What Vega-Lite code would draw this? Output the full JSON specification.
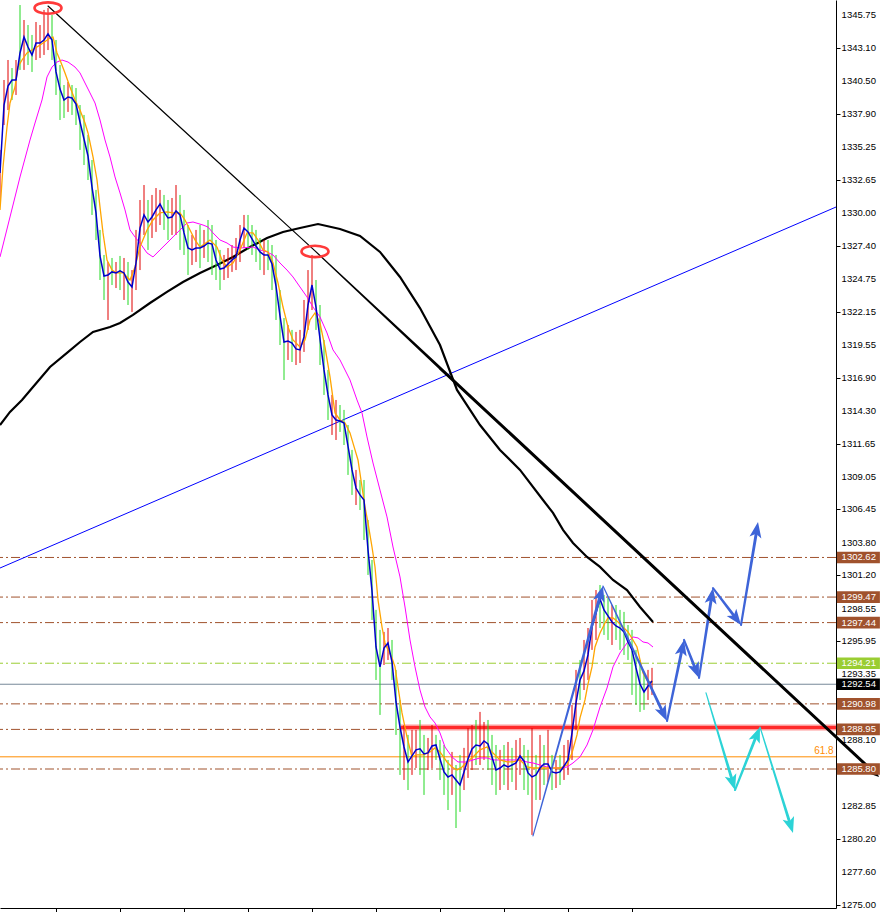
{
"$schema":"https://vega.github.io/schema/vega-lite/v6.json",
"width":836,"height":908,"autosize":{"type":"none"},
"padding":{"left":0,"top":0,"right":44,"bottom":4},
"background":"#ffffff",
"config":{"view":{"stroke":null},"axis":{"grid":false,"domainColor":"#000000","tickColor":"#000000","labelColor":"#000000","labelFont":"Liberation Sans","labelFontSize":9.5,"labelOverlap":false}},
"datasets":{
"ticks":[{"v":1345.75},{"v":1343.10},{"v":1340.50},{"v":1337.90},{"v":1335.25},{"v":1332.65},{"v":1330.00},{"v":1327.40},{"v":1324.75},{"v":1322.15},{"v":1319.55},{"v":1316.90},{"v":1314.30},{"v":1311.65},{"v":1309.05},{"v":1306.45},{"v":1303.80},{"v":1301.20},{"v":1298.55},{"v":1295.95},{"v":1293.35},{"v":1288.10},{"v":1282.85},{"v":1280.20},{"v":1277.60},{"v":1275.00}],
"levels":[{"p":1302.62,"s":"b"},{"p":1299.47,"s":"b"},{"p":1297.44,"s":"b"},{"p":1294.21,"s":"y"},{"p":1292.54,"s":"g"},{"p":1290.98,"s":"b"},{"p":1288.95,"s":"b"},{"p":1286.77,"s":"o"},{"p":1285.80,"s":"b"}],
"boxes":[{"p":1302.62,"s":"b"},{"p":1299.47,"s":"b"},{"p":1297.44,"s":"b"},{"p":1294.21,"s":"y"},{"p":1292.54,"s":"k"},{"p":1290.98,"s":"b"},{"p":1288.95,"s":"b"},{"p":1285.80,"s":"b"}],
"bars":[
{"t":0,"c":1333.19,"h":1335.02,"l":1331.04,"k":"r"},
{"t":1,"c":1338.59,"h":1340.58,"l":1337.00,"k":"r"},
{"t":2,"c":1340.10,"h":1342.17,"l":1338.19,"k":"r"},
{"t":3,"c":1340.58,"h":1341.53,"l":1338.99,"k":"g"},
{"t":4,"c":1340.58,"h":1342.17,"l":1339.39,"k":"r"},
{"t":5,"c":1342.73,"h":1346.54,"l":1341.38,"k":"g"},
{"t":6,"c":1344.00,"h":1345.35,"l":1341.38,"k":"r"},
{"t":7,"c":1343.20,"h":1344.95,"l":1341.77,"k":"g"},
{"t":8,"c":1342.57,"h":1344.16,"l":1341.22,"k":"g"},
{"t":9,"c":1343.52,"h":1345.19,"l":1342.17,"k":"r"},
{"t":10,"c":1343.52,"h":1344.95,"l":1342.33,"k":"r"},
{"t":11,"c":1343.76,"h":1346.15,"l":1342.57,"k":"r"},
{"t":12,"c":1344.24,"h":1346.30,"l":1342.96,"k":"r"},
{"t":13,"c":1343.76,"h":1345.75,"l":1342.17,"k":"g"},
{"t":14,"c":1341.22,"h":1343.76,"l":1339.39,"k":"g"},
{"t":15,"c":1339.86,"h":1341.77,"l":1337.40,"k":"g"},
{"t":16,"c":1338.99,"h":1340.18,"l":1337.56,"k":"g"},
{"t":17,"c":1339.23,"h":1340.42,"l":1338.04,"k":"r"},
{"t":18,"c":1339.15,"h":1340.18,"l":1337.80,"k":"g"},
{"t":19,"c":1338.67,"h":1339.94,"l":1337.00,"k":"g"},
{"t":20,"c":1337.24,"h":1338.59,"l":1335.02,"k":"g"},
{"t":21,"c":1335.89,"h":1337.80,"l":1333.82,"k":"g"},
{"t":22,"c":1334.54,"h":1336.21,"l":1332.63,"k":"g"},
{"t":23,"c":1332.07,"h":1334.22,"l":1329.85,"k":"g"},
{"t":24,"c":1330.01,"h":1331.84,"l":1327.86,"k":"g"},
{"t":25,"c":1326.59,"h":1328.66,"l":1324.68,"k":"g"},
{"t":26,"c":1325.00,"h":1326.67,"l":1323.09,"k":"g"},
{"t":27,"c":1325.08,"h":1326.11,"l":1321.50,"k":"r"},
{"t":28,"c":1325.32,"h":1326.43,"l":1324.28,"k":"g"},
{"t":29,"c":1325.24,"h":1326.11,"l":1324.04,"k":"r"},
{"t":30,"c":1325.40,"h":1326.59,"l":1323.88,"k":"g"},
{"t":31,"c":1325.24,"h":1326.43,"l":1323.09,"k":"r"},
{"t":32,"c":1324.52,"h":1326.11,"l":1322.69,"k":"g"},
{"t":33,"c":1324.12,"h":1325.47,"l":1322.14,"k":"r"},
{"t":34,"c":1326.03,"h":1328.66,"l":1323.88,"k":"r"},
{"t":35,"c":1328.81,"h":1331.04,"l":1325.47,"k":"r"},
{"t":36,"c":1329.85,"h":1332.23,"l":1328.26,"k":"r"},
{"t":37,"c":1329.29,"h":1331.04,"l":1327.07,"k":"g"},
{"t":38,"c":1329.69,"h":1331.44,"l":1328.02,"k":"r"},
{"t":39,"c":1330.25,"h":1331.99,"l":1328.50,"k":"r"},
{"t":40,"c":1330.72,"h":1331.84,"l":1329.05,"k":"r"},
{"t":41,"c":1330.09,"h":1331.44,"l":1328.66,"k":"g"},
{"t":42,"c":1329.61,"h":1331.04,"l":1327.86,"k":"g"},
{"t":43,"c":1329.69,"h":1331.20,"l":1328.26,"k":"r"},
{"t":44,"c":1330.17,"h":1332.23,"l":1328.26,"k":"r"},
{"t":45,"c":1329.85,"h":1331.44,"l":1327.07,"k":"g"},
{"t":46,"c":1328.42,"h":1330.25,"l":1326.67,"k":"g"},
{"t":47,"c":1327.22,"h":1329.05,"l":1325.08,"k":"g"},
{"t":48,"c":1327.07,"h":1328.26,"l":1325.87,"k":"r"},
{"t":49,"c":1327.22,"h":1328.66,"l":1326.11,"k":"r"},
{"t":50,"c":1327.22,"h":1329.05,"l":1325.63,"k":"g"},
{"t":51,"c":1327.38,"h":1328.66,"l":1326.43,"k":"r"},
{"t":52,"c":1327.62,"h":1329.45,"l":1326.11,"k":"g"},
{"t":53,"c":1327.54,"h":1329.05,"l":1325.08,"k":"g"},
{"t":54,"c":1326.27,"h":1327.86,"l":1324.68,"k":"g"},
{"t":55,"c":1325.55,"h":1327.07,"l":1323.88,"k":"g"},
{"t":56,"c":1325.63,"h":1326.67,"l":1324.68,"k":"r"},
{"t":57,"c":1325.95,"h":1327.22,"l":1324.84,"k":"r"},
{"t":58,"c":1326.27,"h":1327.46,"l":1325.32,"k":"r"},
{"t":59,"c":1326.51,"h":1328.02,"l":1325.47,"k":"r"},
{"t":60,"c":1327.86,"h":1329.05,"l":1326.11,"k":"r"},
{"t":61,"c":1328.81,"h":1329.85,"l":1327.22,"k":"r"},
{"t":62,"c":1328.50,"h":1329.85,"l":1327.07,"k":"g"},
{"t":63,"c":1327.94,"h":1329.05,"l":1326.67,"k":"g"},
{"t":64,"c":1327.38,"h":1328.66,"l":1326.11,"k":"g"},
{"t":65,"c":1326.91,"h":1328.02,"l":1325.47,"k":"g"},
{"t":66,"c":1326.67,"h":1327.86,"l":1325.08,"k":"r"},
{"t":67,"c":1326.67,"h":1327.86,"l":1325.47,"k":"g"},
{"t":68,"c":1325.95,"h":1327.46,"l":1323.88,"k":"g"},
{"t":69,"c":1324.20,"h":1326.67,"l":1321.50,"k":"g"},
{"t":70,"c":1321.82,"h":1323.88,"l":1319.51,"k":"g"},
{"t":71,"c":1319.75,"h":1321.66,"l":1316.73,"k":"g"},
{"t":72,"c":1319.83,"h":1321.10,"l":1318.32,"k":"r"},
{"t":73,"c":1319.67,"h":1320.71,"l":1318.16,"k":"g"},
{"t":74,"c":1319.20,"h":1320.55,"l":1317.92,"k":"r"},
{"t":75,"c":1319.12,"h":1320.71,"l":1318.08,"k":"r"},
{"t":76,"c":1320.15,"h":1323.09,"l":1318.96,"k":"r"},
{"t":77,"c":1322.69,"h":1325.47,"l":1320.71,"k":"r"},
{"t":78,"c":1324.28,"h":1326.67,"l":1322.29,"k":"r"},
{"t":79,"c":1322.53,"h":1324.68,"l":1320.71,"k":"g"},
{"t":80,"c":1319.99,"h":1322.69,"l":1317.92,"k":"g"},
{"t":81,"c":1317.53,"h":1319.91,"l":1315.54,"k":"g"},
{"t":82,"c":1315.54,"h":1317.53,"l":1313.55,"k":"g"},
{"t":83,"c":1313.95,"h":1315.54,"l":1312.36,"k":"r"},
{"t":84,"c":1313.55,"h":1315.14,"l":1311.96,"k":"r"},
{"t":85,"c":1313.47,"h":1314.74,"l":1312.60,"k":"g"},
{"t":86,"c":1313.31,"h":1314.35,"l":1311.56,"k":"g"},
{"t":87,"c":1311.48,"h":1313.15,"l":1309.18,"k":"g"},
{"t":88,"c":1309.58,"h":1311.17,"l":1307.59,"k":"g"},
{"t":89,"c":1308.14,"h":1309.58,"l":1306.79,"k":"r"},
{"t":90,"c":1307.59,"h":1308.78,"l":1306.39,"k":"g"},
{"t":91,"c":1307.19,"h":1308.78,"l":1304.01,"k":"g"},
{"t":92,"c":1303.22,"h":1305.60,"l":1301.23,"k":"g"},
{"t":93,"c":1299.96,"h":1302.42,"l":1297.65,"k":"g"},
{"t":94,"c":1295.50,"h":1298.45,"l":1292.88,"k":"g"},
{"t":95,"c":1293.92,"h":1296.86,"l":1290.10,"k":"g"},
{"t":96,"c":1295.42,"h":1296.70,"l":1294.07,"k":"r"},
{"t":97,"c":1295.82,"h":1297.01,"l":1294.47,"k":"r"},
{"t":98,"c":1294.31,"h":1296.06,"l":1292.88,"k":"g"},
{"t":99,"c":1291.13,"h":1293.68,"l":1288.51,"k":"g"},
{"t":100,"c":1289.14,"h":1291.29,"l":1285.33,"k":"g"},
{"t":101,"c":1287.55,"h":1289.30,"l":1284.93,"k":"r"},
{"t":102,"c":1286.36,"h":1288.51,"l":1284.13,"k":"g"},
{"t":103,"c":1286.84,"h":1288.91,"l":1285.33,"k":"r"},
{"t":104,"c":1287.32,"h":1288.91,"l":1285.88,"k":"r"},
{"t":105,"c":1287.40,"h":1289.70,"l":1285.33,"k":"g"},
{"t":106,"c":1287.00,"h":1288.51,"l":1283.74,"k":"g"},
{"t":107,"c":1287.08,"h":1288.27,"l":1285.72,"k":"r"},
{"t":108,"c":1287.63,"h":1289.30,"l":1285.88,"k":"r"},
{"t":109,"c":1287.71,"h":1288.51,"l":1286.52,"k":"g"},
{"t":110,"c":1286.60,"h":1288.11,"l":1284.93,"k":"g"},
{"t":111,"c":1285.57,"h":1287.71,"l":1283.74,"k":"g"},
{"t":112,"c":1285.17,"h":1286.52,"l":1282.54,"k":"g"},
{"t":113,"c":1285.33,"h":1287.16,"l":1283.74,"k":"r"},
{"t":114,"c":1284.93,"h":1286.12,"l":1281.11,"k":"g"},
{"t":115,"c":1284.53,"h":1286.92,"l":1282.39,"k":"g"},
{"t":116,"c":1285.57,"h":1287.48,"l":1284.13,"k":"r"},
{"t":117,"c":1286.60,"h":1289.06,"l":1285.09,"k":"r"},
{"t":118,"c":1287.40,"h":1289.30,"l":1285.72,"k":"r"},
{"t":119,"c":1287.71,"h":1289.70,"l":1286.12,"k":"g"},
{"t":120,"c":1287.63,"h":1290.34,"l":1286.12,"k":"r"},
{"t":121,"c":1288.03,"h":1289.54,"l":1286.52,"k":"r"},
{"t":122,"c":1287.79,"h":1289.70,"l":1285.72,"k":"g"},
{"t":123,"c":1286.76,"h":1288.51,"l":1284.53,"k":"g"},
{"t":124,"c":1285.72,"h":1287.71,"l":1283.74,"k":"g"},
{"t":125,"c":1285.88,"h":1287.32,"l":1284.13,"k":"r"},
{"t":126,"c":1286.12,"h":1287.71,"l":1284.53,"k":"g"},
{"t":127,"c":1285.96,"h":1287.95,"l":1284.13,"k":"r"},
{"t":128,"c":1286.12,"h":1287.48,"l":1284.77,"k":"g"},
{"t":129,"c":1286.28,"h":1288.11,"l":1284.13,"k":"r"},
{"t":130,"c":1286.84,"h":1288.27,"l":1285.33,"k":"r"},
{"t":131,"c":1286.44,"h":1287.71,"l":1284.13,"k":"g"},
{"t":132,"c":1285.49,"h":1287.32,"l":1283.74,"k":"g"},
{"t":133,"c":1285.17,"h":1289.06,"l":1280.56,"k":"r"},
{"t":134,"c":1285.33,"h":1286.92,"l":1283.34,"k":"g"},
{"t":135,"c":1285.88,"h":1288.51,"l":1283.34,"k":"r"},
{"t":136,"c":1286.20,"h":1287.71,"l":1284.53,"k":"g"},
{"t":137,"c":1286.20,"h":1288.91,"l":1284.77,"k":"r"},
{"t":138,"c":1285.57,"h":1286.92,"l":1284.13,"k":"g"},
{"t":139,"c":1285.49,"h":1286.52,"l":1284.29,"k":"r"},
{"t":140,"c":1285.57,"h":1286.92,"l":1284.53,"k":"g"},
{"t":141,"c":1286.04,"h":1287.71,"l":1284.93,"k":"r"},
{"t":142,"c":1286.52,"h":1288.11,"l":1285.33,"k":"r"},
{"t":143,"c":1288.67,"h":1290.89,"l":1286.52,"k":"r"},
{"t":144,"c":1291.05,"h":1293.68,"l":1288.91,"k":"r"},
{"t":145,"c":1292.88,"h":1294.47,"l":1291.29,"k":"g"},
{"t":146,"c":1293.60,"h":1296.06,"l":1292.08,"k":"r"},
{"t":147,"c":1294.87,"h":1297.01,"l":1292.88,"k":"r"},
{"t":148,"c":1297.09,"h":1299.24,"l":1295.27,"k":"r"},
{"t":149,"c":1298.21,"h":1300.03,"l":1296.06,"k":"r"},
{"t":150,"c":1299.32,"h":1300.43,"l":1297.01,"k":"g"},
{"t":151,"c":1298.45,"h":1299.64,"l":1296.46,"k":"g"},
{"t":152,"c":1297.97,"h":1299.40,"l":1296.06,"k":"g"},
{"t":153,"c":1297.49,"h":1298.84,"l":1295.66,"k":"r"},
{"t":154,"c":1297.17,"h":1298.84,"l":1296.06,"k":"g"},
{"t":155,"c":1297.01,"h":1298.45,"l":1295.27,"k":"g"},
{"t":156,"c":1296.70,"h":1298.29,"l":1294.87,"k":"g"},
{"t":157,"c":1295.90,"h":1297.25,"l":1294.47,"k":"g"},
{"t":158,"c":1295.27,"h":1296.86,"l":1291.69,"k":"g"},
{"t":159,"c":1293.84,"h":1295.27,"l":1290.89,"k":"g"},
{"t":160,"c":1292.56,"h":1294.47,"l":1290.34,"k":"g"},
{"t":161,"c":1291.93,"h":1293.52,"l":1290.50,"k":"g"},
{"t":162,"c":1292.40,"h":1293.68,"l":1291.29,"k":"r"},
{"t":163,"c":1292.80,"h":1293.84,"l":1291.69,"k":"r"}
],
"orange":[
{"t":0,"p":1330.25},{"t":0.75,"p":1333.66},{"t":1.75,"p":1336.84},{"t":2.5,"p":1338.75},{"t":3.75,"p":1340.02},{"t":4.5,"p":1341.61},{"t":5.5,"p":1342.17},{"t":6.75,"p":1342.73},{"t":8,"p":1342.96},{"t":9.25,"p":1343.20},{"t":10.75,"p":1343.52},{"t":12.5,"p":1343.92},{"t":13.25,"p":1344.00},{"t":14.25,"p":1342.73},{"t":15,"p":1342.17},{"t":16.25,"p":1341.14},{"t":17.5,"p":1340.02},{"t":18.75,"p":1338.99},{"t":20,"p":1338.19},{"t":21.25,"p":1337.16},{"t":22,"p":1336.37},{"t":23.25,"p":1334.46},{"t":24.25,"p":1332.63},{"t":25,"p":1330.48},{"t":25.75,"p":1328.42},{"t":26.75,"p":1326.27},{"t":28,"p":1325.47},{"t":29.25,"p":1325.24},{"t":30.75,"p":1325.24},{"t":32.5,"p":1324.68},{"t":33.75,"p":1325.71},{"t":35,"p":1327.30},{"t":36.75,"p":1328.66},{"t":38.25,"p":1329.45},{"t":40,"p":1330.01},{"t":41.75,"p":1330.09},{"t":43.25,"p":1330.01},{"t":45,"p":1330.01},{"t":46.25,"p":1329.45},{"t":47.5,"p":1328.66},{"t":48.75,"p":1327.86},{"t":50,"p":1327.30},{"t":52.5,"p":1327.86},{"t":54.25,"p":1327.30},{"t":55.5,"p":1326.27},{"t":56.75,"p":1325.71},{"t":58.25,"p":1326.03},{"t":60,"p":1327.07},{"t":61.75,"p":1328.42},{"t":63.25,"p":1328.42},{"t":64.5,"p":1327.86},{"t":65.75,"p":1327.07},{"t":67,"p":1326.91},{"t":68.25,"p":1326.03},{"t":69.5,"p":1324.44},{"t":70.75,"p":1322.53},{"t":72,"p":1320.94},{"t":73.25,"p":1319.91},{"t":75,"p":1319.35},{"t":76.25,"p":1319.91},{"t":77.5,"p":1321.50},{"t":78.75,"p":1322.06},{"t":80,"p":1321.26},{"t":81.25,"p":1319.35},{"t":82.5,"p":1316.97},{"t":83.75,"p":1314.11},{"t":85,"p":1313.55},{"t":86.25,"p":1313.31},{"t":87.5,"p":1312.52},{"t":88.75,"p":1311.17},{"t":89.5,"p":1310.37},{"t":90.5,"p":1308.22},{"t":91.25,"p":1306.63},{"t":92,"p":1305.36},{"t":93,"p":1303.45},{"t":93.75,"p":1301.86},{"t":94.5,"p":1299.24},{"t":95.5,"p":1297.09},{"t":96.25,"p":1295.82},{"t":97,"p":1295.27},{"t":98,"p":1294.63},{"t":98.75,"p":1293.92},{"t":99.5,"p":1292.32},{"t":100.5,"p":1290.26},{"t":101.75,"p":1288.35},{"t":103,"p":1286.76},{"t":104.25,"p":1286.92},{"t":105.75,"p":1286.92},{"t":107.5,"p":1287.16},{"t":108.75,"p":1287.48},{"t":110,"p":1287.16},{"t":111.75,"p":1286.36},{"t":113,"p":1285.96},{"t":114.25,"p":1285.72},{"t":115.5,"p":1285.96},{"t":116.75,"p":1286.36},{"t":118.25,"p":1286.76},{"t":120,"p":1287.32},{"t":121.75,"p":1287.55},{"t":123.25,"p":1287.08},{"t":125,"p":1286.52},{"t":126.75,"p":1286.36},{"t":128.25,"p":1286.36},{"t":130,"p":1286.52},{"t":131.75,"p":1285.96},{"t":133.25,"p":1285.88},{"t":136.75,"p":1285.88},{"t":140,"p":1285.88},{"t":141.75,"p":1286.12},{"t":143,"p":1287.08},{"t":144.25,"p":1288.51},{"t":145,"p":1289.86},{"t":146.25,"p":1291.29},{"t":147,"p":1292.56},{"t":148,"p":1293.92},{"t":148.75,"p":1295.50},{"t":150,"p":1296.62},{"t":151.25,"p":1297.41},{"t":152,"p":1297.81},{"t":153.25,"p":1297.81},{"t":154.5,"p":1297.49},{"t":155.75,"p":1297.09},{"t":157,"p":1296.70},{"t":158.25,"p":1296.06},{"t":159.25,"p":1295.50},{"t":160,"p":1294.47},{"t":160.75,"p":1293.44},{"t":161.75,"p":1292.88},{"t":162.5,"p":1292.72},{"t":163.25,"p":1292.72}
],
"magenta":[
{"t":0,"p":1326.51},{"t":2.5,"p":1329.69},{"t":5,"p":1332.87},{"t":7.5,"p":1335.81},{"t":8.75,"p":1337.16},{"t":10.5,"p":1338.99},{"t":11.75,"p":1340.82},{"t":13,"p":1341.61},{"t":14.25,"p":1342.01},{"t":15.5,"p":1342.17},{"t":17,"p":1342.01},{"t":18.75,"p":1341.61},{"t":20,"p":1341.14},{"t":21.25,"p":1340.34},{"t":22.5,"p":1339.55},{"t":23.75,"p":1338.75},{"t":25,"p":1337.40},{"t":26.25,"p":1335.81},{"t":27.5,"p":1334.46},{"t":28.75,"p":1332.87},{"t":30,"p":1331.60},{"t":31.25,"p":1330.25},{"t":32.5,"p":1328.66},{"t":33.75,"p":1328.10},{"t":35,"p":1327.62},{"t":36.75,"p":1326.83},{"t":38.25,"p":1326.51},{"t":40,"p":1327.07},{"t":41.75,"p":1327.62},{"t":43.25,"p":1328.10},{"t":45,"p":1328.66},{"t":46.75,"p":1329.21},{"t":48.25,"p":1329.29},{"t":50.75,"p":1329.05},{"t":52,"p":1328.89},{"t":53.25,"p":1328.42},{"t":55,"p":1327.86},{"t":56.75,"p":1327.62},{"t":58.25,"p":1327.30},{"t":60,"p":1327.22},{"t":63.25,"p":1327.30},{"t":65,"p":1327.07},{"t":66.75,"p":1326.91},{"t":68.25,"p":1326.67},{"t":70,"p":1326.03},{"t":71.75,"p":1325.47},{"t":73.25,"p":1324.92},{"t":75,"p":1324.12},{"t":76.75,"p":1323.33},{"t":78.25,"p":1322.53},{"t":80,"p":1321.74},{"t":81.75,"p":1320.47},{"t":83.25,"p":1319.12},{"t":85,"p":1318.32},{"t":87.5,"p":1316.73},{"t":89.25,"p":1315.14},{"t":90.5,"p":1314.11},{"t":91.75,"p":1312.20},{"t":93.25,"p":1310.13},{"t":95,"p":1307.98},{"t":96.75,"p":1305.84},{"t":98.25,"p":1303.45},{"t":100,"p":1301.07},{"t":101.25,"p":1298.68},{"t":102.5,"p":1296.06},{"t":103.75,"p":1293.92},{"t":105,"p":1292.08},{"t":106.25,"p":1290.73},{"t":107.5,"p":1289.94},{"t":108.75,"p":1289.46},{"t":110,"p":1288.67},{"t":111.25,"p":1287.55},{"t":113,"p":1286.76},{"t":114.5,"p":1286.36},{"t":116.75,"p":1286.36},{"t":118.25,"p":1286.52},{"t":120,"p":1286.68},{"t":121.75,"p":1286.68},{"t":123.25,"p":1286.52},{"t":130,"p":1286.52},{"t":131.75,"p":1286.36},{"t":133.25,"p":1286.28},{"t":135,"p":1286.12},{"t":136.75,"p":1285.96},{"t":138.25,"p":1285.88},{"t":140,"p":1285.88},{"t":141.75,"p":1285.96},{"t":143.25,"p":1286.28},{"t":145,"p":1286.76},{"t":146.75,"p":1287.71},{"t":148.25,"p":1288.91},{"t":150,"p":1290.73},{"t":151.75,"p":1292.24},{"t":153.25,"p":1293.92},{"t":155,"p":1295.03},{"t":156.75,"p":1295.82},{"t":158.25,"p":1296.30},{"t":159.5,"p":1296.22},{"t":160.75,"p":1295.90},{"t":162,"p":1295.82},{"t":163.25,"p":1295.50}
],
"blackma":[
{"t":0,"p":1313.15},{"t":2.5,"p":1314.19},{"t":5.5,"p":1315.14},{"t":8.25,"p":1316.17},{"t":12.5,"p":1317.76},{"t":16.75,"p":1318.88},{"t":20,"p":1319.75},{"t":23.25,"p":1320.55},{"t":27.5,"p":1320.94},{"t":30,"p":1321.26},{"t":33.25,"p":1321.90},{"t":37.5,"p":1322.85},{"t":41.75,"p":1323.73},{"t":45.75,"p":1324.52},{"t":50,"p":1325.24},{"t":54.25,"p":1325.87},{"t":58.25,"p":1326.51},{"t":62.5,"p":1327.30},{"t":66.75,"p":1328.02},{"t":70.75,"p":1328.50},{"t":75,"p":1328.81},{"t":79.5,"p":1329.13},{"t":85,"p":1328.73},{"t":90,"p":1328.18},{"t":95,"p":1326.91},{"t":100,"p":1324.92},{"t":105,"p":1322.45},{"t":110,"p":1319.51},{"t":114.25,"p":1315.94},{"t":120,"p":1313.15},{"t":125,"p":1311.17},{"t":130,"p":1309.58},{"t":135.75,"p":1307.19},{"t":138.25,"p":1306.16},{"t":140.75,"p":1304.81},{"t":143.25,"p":1303.77},{"t":146.75,"p":1302.66},{"t":150,"p":1301.87},{"t":153.25,"p":1300.83},{"t":156.75,"p":1300.03},{"t":160,"p":1298.68},{"t":163.25,"p":1297.49}
],
"arrows":[
{"g":"A1","o":1,"t":133.25,"p":1280.48,"w":"s","c":"blue"},{"g":"A1","o":2,"t":150.2,"p":1299.74,"w":"e","c":"blue"},
{"g":"A2","o":1,"t":150.75,"p":1300.35,"w":"s","c":"blue"},{"g":"A2","o":2,"t":165.9,"p":1290.19,"w":"e","c":"blue"},
{"g":"A3","o":1,"t":166.75,"p":1289.62,"w":"m","c":"blue"},{"g":"A3","o":2,"t":170.6,"p":1295.44,"w":"e","c":"blue"},
{"g":"A4","o":1,"t":171,"p":1296.06,"w":"m","c":"blue"},{"g":"A4","o":2,"t":174.0,"p":1293.63,"w":"e","c":"blue"},
{"g":"A5","o":1,"t":174.75,"p":1293.04,"w":"m","c":"blue"},{"g":"A5","o":2,"t":177.95,"p":1299.57,"w":"e","c":"blue"},
{"g":"A6","o":1,"t":178.25,"p":1300.19,"w":"m","c":"blue"},{"g":"A6","o":2,"t":184.05,"p":1297.76,"w":"e","c":"blue"},
{"g":"A7","o":1,"t":185.25,"p":1297.25,"w":"m","c":"blue"},{"g":"A7","o":2,"t":189.2,"p":1304.81,"w":"e","c":"blue"},
{"g":"C1","o":1,"t":176.5,"p":1291.85,"w":"s","c":"cyan"},{"g":"C1","o":2,"t":183.2,"p":1284.75,"w":"e","c":"cyan"},
{"g":"C2","o":1,"t":183.75,"p":1284.13,"w":"m","c":"cyan"},{"g":"C2","o":2,"t":189.25,"p":1288.56,"w":"e","c":"cyan"},
{"g":"C3","o":1,"t":190,"p":1289.14,"w":"s","c":"cyan"},{"g":"C3","o":2,"t":197.65,"p":1281.32,"w":"e","c":"cyan"},
{"g":"T","o":1,"t":12,"p":1346.46,"w":"s","c":"black"},{"g":"T","o":2,"t":78.75,"p":1326.99,"w":"s","c":"black"},{"g":"T","o":3,"t":110,"p":1317.68,"w":"e","c":"black"},{"g":"T","o":4,"t":217.75,"p":1285.76,"w":"e","c":"black"}
],
"heads":[
{"t":150.75,"p":1300.35,"a":15.6,"c":"blue"},{"t":166.75,"p":1289.62,"a":154.6,"c":"blue"},{"t":171,"p":1296.06,"a":11.9,"c":"blue"},{"t":174.75,"p":1293.04,"a":158.5,"c":"blue"},{"t":178.25,"p":1300.19,"a":8.8,"c":"blue"},{"t":185.25,"p":1297.25,"a":142.9,"c":"blue"},{"t":189.5,"p":1305.44,"a":9.4,"c":"blue"},
{"t":183.75,"p":1284.13,"a":163.4,"c":"cyan"},{"t":190,"p":1289.14,"a":21.6,"c":"cyan"},{"t":198.25,"p":1280.72,"a":162.7,"c":"cyan"},
{"t":219.75,"p":1285.17,"a":132.9,"c":"black"}
]
},
"resolve":{"scale":{"color":"independent","size":"independent","strokeDash":"independent"}},
"layer":[
{"data":{"name":"levels"},"mark":{"type":"rule","strokeWidth":1},
 "encoding":{
  "y":{"field":"p","type":"quantitative","title":null,"scale":{"domain":[1274.75,1346.94],"nice":false,"zero":false},
   "axis":{"orient":"right","values":[1345.75,1343.10,1340.50,1337.90,1335.25,1332.65,1330.00,1327.40,1324.75,1322.15,1319.55,1316.90,1314.30,1311.65,1309.05,1306.45,1303.80,1301.20,1298.55,1295.95,1293.35,1290.70,1288.10,1285.45,1282.85,1280.20,1277.60,1275.00],"labels":false,"tickSize":4,"title":null}},
  "color":{"field":"s","type":"nominal","legend":null,"scale":{"domain":["b","y","g","o"],"range":["#a0522d","#9acd32","#778899","#ff8c00"]}},
  "strokeDash":{"field":"s","type":"nominal","legend":null,"scale":{"domain":["b","y","g","o"],"range":[[9,3,2,3],[9,3,2,3],[1,0],[1,0]]}}
 }},
{"data":{"values":[{"t":100.25,"p":1289.1},{"t":209,"p":1289.1}]},"mark":{"type":"line","color":"#ff9a9a","strokeWidth":6},
 "encoding":{"x":{"field":"t","type":"quantitative","title":null,"scale":{"domain":[0,209],"nice":false,"zero":false},
   "axis":{"orient":"bottom","values":[14,30,46,62,78,94,110,126,142,158],"labels":false,"tickSize":4,"title":null}},
  "y":{"field":"p","type":"quantitative","title":null,"scale":{"domain":[1274.75,1346.94],"nice":false,"zero":false}}}},
{"data":{"values":[{"t":100.25,"p":1289.1},{"t":209,"p":1289.1}]},"mark":{"type":"line","color":"#ff2a2a","strokeWidth":3},
 "encoding":{"x":{"field":"t","type":"quantitative","title":null,"scale":{"domain":[0,209],"nice":false,"zero":false}},
  "y":{"field":"p","type":"quantitative","title":null,"scale":{"domain":[1274.75,1346.94],"nice":false,"zero":false}}}},
{"data":{"values":[{"t":0,"p":1301.78},{"t":209,"p":1330.48}]},"mark":{"type":"line","color":"#0000ff","strokeWidth":1},
 "encoding":{"x":{"field":"t","type":"quantitative","title":null,"scale":{"domain":[0,209],"nice":false,"zero":false}},
  "y":{"field":"p","type":"quantitative","title":null,"scale":{"domain":[1274.75,1346.94],"nice":false,"zero":false}}}},
{"data":{"name":"blackma"},"mark":{"type":"line","color":"#000000","strokeWidth":2.2},
 "encoding":{"x":{"field":"t","type":"quantitative","title":null,"scale":{"domain":[0,209],"nice":false,"zero":false}},
  "y":{"field":"p","type":"quantitative","title":null,"scale":{"domain":[1274.75,1346.94],"nice":false,"zero":false}}}},
{"data":{"name":"bars"},"mark":{"type":"rule","strokeWidth":1},
 "encoding":{"x":{"field":"t","type":"quantitative","title":null,"scale":{"domain":[0,209],"nice":false,"zero":false}},
  "y":{"field":"h","type":"quantitative","title":null,"scale":{"domain":[1274.75,1346.94],"nice":false,"zero":false}},
  "y2":{"field":"l"},
  "color":{"field":"k","type":"nominal","legend":null,"scale":{"domain":["r","g"],"range":["#e00000","#22d822"]}}}},
{"data":{"name":"magenta"},"mark":{"type":"line","color":"#ff00ff","strokeWidth":1},
 "encoding":{"x":{"field":"t","type":"quantitative","title":null,"scale":{"domain":[0,209],"nice":false,"zero":false}},
  "y":{"field":"p","type":"quantitative","title":null,"scale":{"domain":[1274.75,1346.94],"nice":false,"zero":false}}}},
{"data":{"name":"orange"},"mark":{"type":"line","color":"#ffa500","strokeWidth":1.3},
 "encoding":{"x":{"field":"t","type":"quantitative","title":null,"scale":{"domain":[0,209],"nice":false,"zero":false}},
  "y":{"field":"p","type":"quantitative","title":null,"scale":{"domain":[1274.75,1346.94],"nice":false,"zero":false}}}},
{"data":{"name":"bars"},"mark":{"type":"line","color":"#0000cd","strokeWidth":1.5},
 "encoding":{"x":{"field":"t","type":"quantitative","title":null,"scale":{"domain":[0,209],"nice":false,"zero":false}},
  "y":{"field":"c","type":"quantitative","title":null,"scale":{"domain":[1274.75,1346.94],"nice":false,"zero":false}}}},
{"data":{"name":"arrows"},"mark":{"type":"trail"},
 "encoding":{"x":{"field":"t","type":"quantitative","title":null,"scale":{"domain":[0,209],"nice":false,"zero":false}},
  "y":{"field":"p","type":"quantitative","title":null,"scale":{"domain":[1274.75,1346.94],"nice":false,"zero":false}},
  "detail":{"field":"g","type":"nominal"},
  "order":{"field":"o","type":"quantitative"},
  "size":{"field":"w","type":"ordinal","legend":null,"scale":{"domain":["s","m","e"],"range":[1.2,3,5.4]}},
  "color":{"field":"c","type":"nominal","legend":null,"scale":{"domain":["blue","cyan","black"],"range":["#3e64d8","#2cd3d6","#000000"]}}}},
{"data":{"name":"heads"},"transform":[{"filter":"datum.c != 'black'"}],
 "mark":{"type":"point","shape":"M 0 0 L 0.4 1.05 L 0 0.8 L -0.4 1.05 Z","size":900,"filled":true,"opacity":1},
 "encoding":{"x":{"field":"t","type":"quantitative","title":null,"scale":{"domain":[0,209],"nice":false,"zero":false}},
  "y":{"field":"p","type":"quantitative","title":null,"scale":{"domain":[1274.75,1346.94],"nice":false,"zero":false}},
  "angle":{"field":"a","type":"quantitative","scale":null},
  "color":{"field":"c","type":"nominal","legend":null,"scale":{"domain":["blue","cyan","black"],"range":["#3e64d8","#2cd3d6","#000000"]}}}},
{"data":{"name":"heads"},"transform":[{"filter":"datum.c == 'black'"}],
 "mark":{"type":"point","shape":"M 0 0 L 0.45 1 L -0.45 1 Z","size":420,"filled":true,"opacity":1,"color":"#000000"},
 "encoding":{"x":{"field":"t","type":"quantitative","title":null,"scale":{"domain":[0,209],"nice":false,"zero":false}},
  "y":{"field":"p","type":"quantitative","title":null,"scale":{"domain":[1274.75,1346.94],"nice":false,"zero":false}},
  "angle":{"field":"a","type":"quantitative","scale":null}}},
{"data":{"values":[{"t":12,"p":1346.30},{"t":78.75,"p":1326.95}]},
 "mark":{"type":"point","shape":"M -1 0 A 1 0.42 0 1 1 1 0 A 1 0.42 0 1 1 -1 0 Z","size":729,"filled":false,"stroke":"#ff3a3a","strokeWidth":2.6,"opacity":1},
 "encoding":{"x":{"field":"t","type":"quantitative","title":null,"scale":{"domain":[0,209],"nice":false,"zero":false}},
  "y":{"field":"p","type":"quantitative","title":null,"scale":{"domain":[1274.75,1346.94],"nice":false,"zero":false}}}},
{"data":{"values":[{"t":208.4,"p":1286.77,"txt":"61.8"}]},
 "mark":{"type":"text","align":"right","baseline":"bottom","dy":-1,"fontSize":10,"font":"Liberation Sans","color":"#ff8c00"},
 "encoding":{"x":{"field":"t","type":"quantitative","title":null,"scale":{"domain":[0,209],"nice":false,"zero":false}},
  "y":{"field":"p","type":"quantitative","title":null,"scale":{"domain":[1274.75,1346.94],"nice":false,"zero":false}},
  "text":{"field":"txt"}}},
{"data":{"name":"ticks"},
 "mark":{"type":"text","align":"left","baseline":"middle","fontSize":9.5,"font":"Liberation Sans","color":"#000000"},
 "encoding":{"x":{"datum":210.4,"type":"quantitative","scale":{"domain":[0,209],"nice":false,"zero":false}},
  "y":{"field":"v","type":"quantitative","title":null,"scale":{"domain":[1274.75,1346.94],"nice":false,"zero":false}},
  "text":{"field":"v","type":"quantitative","format":".2f"}}},
{"data":{"name":"boxes"},
 "mark":{"type":"point","shape":"M -1 -0.27 L 1 -0.27 L 1 0.27 L -1 0.27 Z","size":1849,"filled":true,"opacity":1},
 "encoding":{"x":{"datum":214.6,"type":"quantitative","scale":{"domain":[0,209],"nice":false,"zero":false}},
  "y":{"field":"p","type":"quantitative","title":null,"scale":{"domain":[1274.75,1346.94],"nice":false,"zero":false}},
  "color":{"field":"s","type":"nominal","legend":null,"scale":{"domain":["b","y","k"],"range":["#a0522d","#9acd32","#000000"]}}}},
{"data":{"name":"boxes"},
 "mark":{"type":"text","align":"left","baseline":"middle","fontSize":9.5,"font":"Liberation Sans","color":"#ffffff"},
 "encoding":{"x":{"datum":210.4,"type":"quantitative","scale":{"domain":[0,209],"nice":false,"zero":false}},
  "y":{"field":"p","type":"quantitative","title":null,"scale":{"domain":[1274.75,1346.94],"nice":false,"zero":false}},
  "text":{"field":"p","type":"quantitative","format":".2f"}}}
]
}
